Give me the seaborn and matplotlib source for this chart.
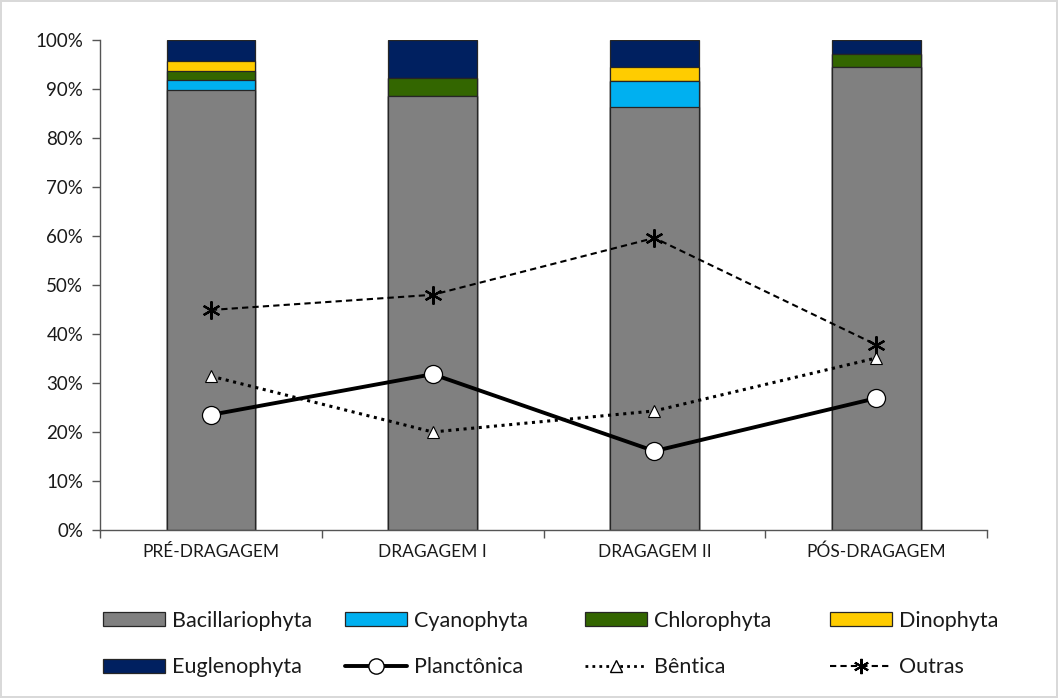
import numpy as np
import pandas as pd
import matplotlib
matplotlib.use("Agg")
import matplotlib.pyplot as plt
from matplotlib.patches import Patch
from matplotlib.lines import Line2D
from matplotlib.ticker import FixedLocator, PercentFormatter
import seaborn as sns

# Sampling periods
periods = ["PRÉ-DRAGAGEM", "DRAGAGEM I", "DRAGAGEM II", "PÓS-DRAGAGEM"]

# Relative abundance of each phylum (%)
bacillariophyta = [89.8, 88.6, 86.3, 94.4]
cyanophyta = [2.0, 0.0, 5.3, 0.0]
chlorophyta = [1.9, 3.7, 0.0, 2.7]
dinophyta = [2.1, 0.0, 2.8, 0.0]
euglenophyta = [4.2, 7.7, 5.6, 2.9]

# Share of diatom life forms (%)
planctonica = [23.5, 31.8, 16.1, 26.9]
bentica = [31.4, 20.0, 24.3, 35.1]
outras = [44.9, 48.0, 59.6, 37.8]

phyla = [
    ("Bacillariophyta", bacillariophyta, "#808080"),
    ("Cyanophyta", cyanophyta, "#00b0f0"),
    ("Chlorophyta", chlorophyta, "#336600"),
    ("Dinophyta", dinophyta, "#ffcc00"),
    ("Euglenophyta", euglenophyta, "#002060"),
]

sns.set_theme(style="white")
plt.rcParams["font.family"] = ["Lato", "DejaVu Sans"]

fig = plt.figure(figsize=(10.58, 6.98), dpi=100)
fig.patch.set_edgecolor("#d9d9d9")
fig.patch.set_linewidth(1.5)
ax = fig.add_axes([0.0945, 0.2407, 0.8385, 0.702])

# Stacked bars: draw cumulative totals from the top down
cum = np.cumsum([np.array(v) for _, v, _ in phyla], axis=0)
for i in range(len(phyla) - 1, -1, -1):
    name, _, color = phyla[i]
    df = pd.DataFrame({"period": periods, "value": cum[i]})
    sns.barplot(data=df, x="period", y="value", color=color, width=0.4,
                edgecolor="#262626", linewidth=0.9, saturation=1, ax=ax,
                zorder=2)

# Life-form lines
xpos = np.arange(len(periods))
lines = pd.DataFrame({"x": xpos, "Planctônica": planctonica,
                      "Bêntica": bentica, "Outras": outras})
sns.lineplot(data=lines, x="x", y="Outras", ax=ax, color="black",
             linestyle=(0, (3, 2)), linewidth=1.5, marker=(6, 2, 0),
             markersize=13, markeredgewidth=1.6, markeredgecolor="black",
             zorder=4)
sns.lineplot(data=lines, x="x", y="Bêntica", ax=ax, color="black",
             linestyle=(0, (1, 1.5)), linewidth=2.2, marker="^",
             markersize=9, markerfacecolor="white",
             markeredgecolor="black", markeredgewidth=0.8, zorder=4)
sns.lineplot(data=lines, x="x", y="Planctônica", ax=ax, color="black",
             linestyle="-", linewidth=2.8, marker="o", markersize=13,
             markerfacecolor="white", markeredgecolor="black",
             markeredgewidth=0.9, zorder=5)

# Axes styling
ax.set_xlim(-0.5, len(periods) - 0.5)
ax.set_ylim(0, 100)
ax.set_yticks(np.arange(0, 101, 10))
ax.yaxis.set_major_formatter(PercentFormatter(decimals=0))
ax.set_xticks(xpos)
ax.set_xticklabels(periods)
ax.xaxis.set_minor_locator(FixedLocator(np.arange(-0.5, len(periods), 1)))
ax.tick_params(axis="x", which="major", length=0, pad=10, labelsize=12.5,
               labelcolor="#1a1a1a")
ax.tick_params(axis="x", which="minor", length=6, width=1, color="#555555",
               direction="out", bottom=True)
ax.tick_params(axis="y", length=6, width=1, color="#555555", direction="out",
               left=True, labelsize=13.5, labelcolor="#1a1a1a", pad=6)
ax.set_xlabel("")
ax.set_ylabel("")
for side in ("top", "right"):
    ax.spines[side].set_visible(False)
for side in ("left", "bottom"):
    ax.spines[side].set_color("#555555")
    ax.spines[side].set_linewidth(1)

# Legend: four columns of two entries, read row by row
patch = lambda n, c: Patch(facecolor=c, edgecolor="#262626", linewidth=0.9,
                           label=n)
h_planc = Line2D([], [], color="black", linewidth=2.8, marker="o",
                 markersize=11, markerfacecolor="white",
                 markeredgecolor="black", label="Planctônica")
h_bent = Line2D([], [], color="black", linestyle=(0, (1, 1.5)), linewidth=2,
                marker="^", markersize=8, markerfacecolor="white",
                markeredgecolor="black", label="Bêntica")
h_out = Line2D([], [], color="black", linestyle=(0, (3, 2)), linewidth=1.5,
               marker=(6, 2, 0), markersize=11, markeredgewidth=1.5,
               label="Outras")
columns = [
    [patch("Bacillariophyta", "#808080"), patch("Euglenophyta", "#002060")],
    [patch("Cyanophyta", "#00b0f0"), h_planc],
    [patch("Chlorophyta", "#336600"), h_bent],
    [patch("Dinophyta", "#ffcc00"), h_out],
]
col_x = [103, 345, 585, 830]
for hs, x in zip(columns, col_x):
    fig.legend(handles=hs, loc="center left", frameon=False,
               bbox_to_anchor=(x / 1058, 1 - 644 / 698), borderpad=0,
               borderaxespad=0, fontsize=15.5, handlelength=2.9,
               handleheight=0.65, labelspacing=1.25, handletextpad=0.3,
               labelcolor="#1a1a1a")

fig.savefig("out.png", dpi=100)
